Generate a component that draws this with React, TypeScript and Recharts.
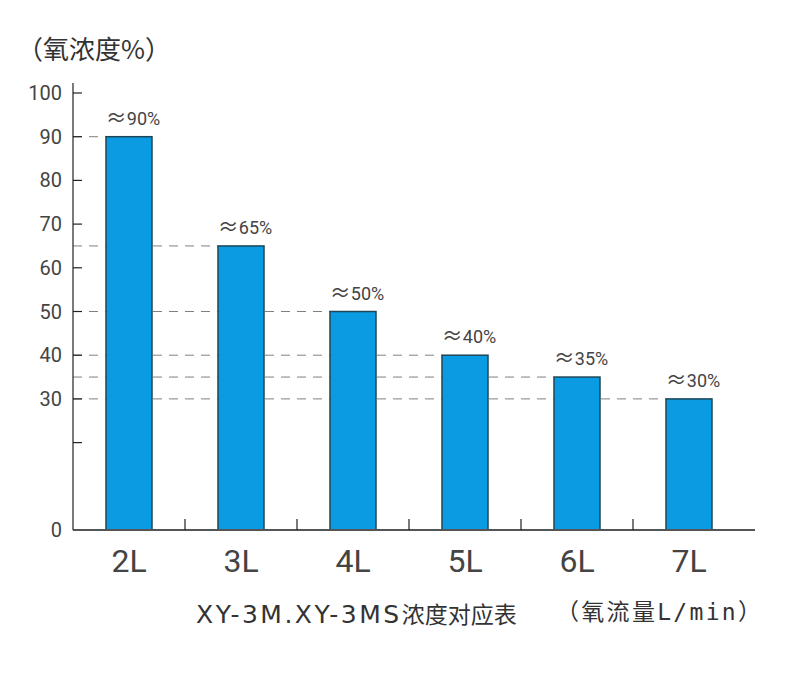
import React from 'react';
import { BarChart, Bar, XAxis, YAxis, LabelList } from 'recharts';

const flowRates = ['2L', '3L', '4L', '5L', '6L', '7L'];
const concentrations = [90, 65, 50, 40, 35, 30];
const yTicks = [0, 20, 30, 40, 50, 60, 70, 80, 90, 100];

const data = flowRates.map((name, i) => ({ name, value: concentrations[i] }));

const W = 790;
const H = 676;
const margin = { top: 83, right: 35, bottom: 116, left: 0 };
const yAxisWidth = 73;
const xPadRight = 10;
const plotLeft = margin.left + yAxisWidth;
const band = (W - margin.right - plotLeft - xPadRight) / flowRates.length;

const fontNum = 'Roboto, "Noto Sans", sans-serif';
const fontCjk = '"Noto Sans CJK SC", "Noto Sans", sans-serif';

function YTick(props: any) {
  const { x, y, payload } = props;
  const axisX = x + 11;
  return (
    <g>
      {payload.value !== 0 && (
        <line x1={axisX} x2={axisX + 9} y1={y} y2={y} stroke="#222" strokeWidth={1.2} />
      )}
      {payload.value !== 20 && (
        <text x={x} y={y} dy={7} textAnchor="end" fontSize={20} fill="#444" fontFamily={fontNum}>
          {payload.value}
        </text>
      )}
    </g>
  );
}

function XTick(props: any) {
  const { x, y, payload, index } = props;
  const axisY = y - 8;
  const bx = x + band / 2;
  return (
    <g>
      {index < flowRates.length - 1 && (
        <line x1={bx} x2={bx} y1={axisY} y2={axisY - 11} stroke="#222" strokeWidth={1.2} />
      )}
      <text x={x} y={axisY + 42} textAnchor="middle" fontSize={32} fill="#444" fontFamily={fontNum}>
        {payload.value}
      </text>
    </g>
  );
}

// dashed guide from the y axis to the bar's left edge, drawn under all bars
function GuideShape(props: any) {
  const { x, y } = props;
  return (
    <line
      x1={plotLeft}
      x2={x}
      y1={y}
      y2={y}
      stroke="#808080"
      strokeWidth={1}
      strokeDasharray="9 7"
    />
  );
}

function BarShape(props: any) {
  const { x, y, width, height } = props;
  return <rect x={x} y={y} width={width} height={height} fill="#0b9be3" stroke="#1d4658" strokeWidth={1.5} />;
}

function TopLabel(props: any) {
  const { x, y, width, value } = props;
  return (
    <text x={x + width / 2 + 4} y={y - 12} textAnchor="middle" fill="#444">
      <tspan fontSize={21} fontFamily={fontCjk}>≈</tspan>
      <tspan fontSize={18} fontFamily={fontNum}>{`${value}%`}</tspan>
    </text>
  );
}

export default function App() {
  return (
    <div style={{ position: 'absolute', left: 0, top: 0, width: W, height: H, background: '#fff' }}>
      <div
        style={{
          position: 'absolute',
          left: 17,
          top: 35,
          fontSize: 26,
          lineHeight: 1,
          color: '#333',
          fontFamily: fontCjk,
          whiteSpace: 'nowrap',
        }}
      >
        （氧浓度%）
      </div>
      <BarChart width={W} height={H} data={data} margin={margin}>
        <XAxis
          xAxisId="guide"
          dataKey="name"
          hide
          height={0}
          padding={{ left: 0, right: xPadRight }}
        />
        <XAxis
          xAxisId="main"
          dataKey="name"
          height={30}
          tickLine={false}
          axisLine={{ stroke: '#555', strokeWidth: 1.8 }}
          padding={{ left: 0, right: xPadRight }}
          tick={<XTick />}
          interval={0}
        />
        <YAxis
          type="number"
          domain={[0, 100]}
          ticks={yTicks}
          width={yAxisWidth}
          tickSize={0}
          tickMargin={11}
          tickLine={false}
          axisLine={{ stroke: '#222', strokeWidth: 1.2 }}
          padding={{ top: 10, bottom: 0 }}
          tick={<YTick />}
          interval={0}
        />
        <Bar xAxisId="guide" dataKey="value" barSize={46} shape={<GuideShape />} isAnimationActive={false} />
        <Bar xAxisId="main" dataKey="value" barSize={46} shape={<BarShape />} isAnimationActive={false}>
          <LabelList dataKey="value" content={<TopLabel />} />
        </Bar>
      </BarChart>
      <div
        style={{
          position: 'absolute',
          left: 196,
          top: 600,
          lineHeight: '26px',
          color: '#333',
          whiteSpace: 'nowrap',
        }}
      >
        <span style={{ fontSize: 25, fontFamily: '"DejaVu Sans", sans-serif', letterSpacing: 2.5 }}>
          XY-3M.XY-3MS
        </span>
        <span style={{ fontSize: 23, fontFamily: fontCjk }}>浓度对应表</span>
      </div>
      <div
        style={{
          position: 'absolute',
          left: 556,
          top: 601,
          fontSize: 23,
          lineHeight: 1,
          color: '#333',
          fontFamily: '"DejaVu Sans Mono", "Noto Sans CJK SC", monospace',
          whiteSpace: 'nowrap',
          letterSpacing: 2.3,
        }}
      >
        （氧流量L/min）
      </div>
    </div>
  );
}
